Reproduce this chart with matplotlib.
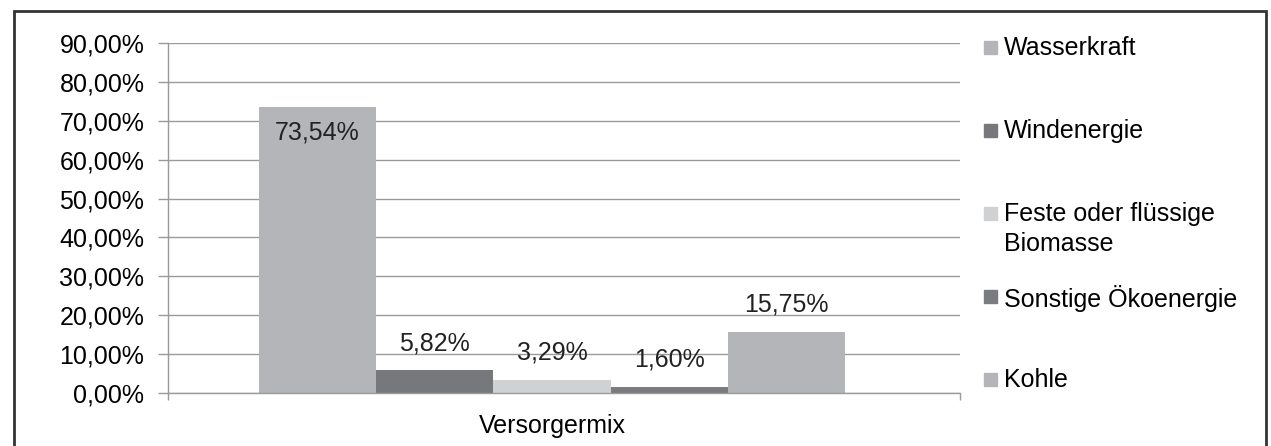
import numpy as np
import matplotlib.pyplot as plt
from matplotlib.patches import Rectangle

plt.rcParams['font.family'] = ['Liberation Sans', 'DejaVu Sans']

# data
categories = ['Wasserkraft', 'Windenergie', 'Feste oder flüssige\nBiomasse',
              'Sonstige Ökoenergie', 'Kohle']
values = [73.54, 5.82, 3.29, 1.60, 15.75]
colors = ['#b3b5b8', '#77787c', '#d0d1d3', '#7b7c80', '#b3b5b8']
group_label = 'Versorgermix'
yticks = np.arange(0, 91, 10)

FS = 18
W, H = 1271, 446
fig = plt.figure(figsize=(W / 100, H / 100), dpi=100)
ax = fig.add_axes([168 / W, 1 - 393 / H, (960 - 168) / W, 350 / H])

x = np.arange(len(values))
ax.bar(x, values, width=1.0, color=colors, zorder=2)
ax.set_xlim(-1.276, 5.48)
ax.set_ylim(0, 90)
ax.set_yticks(yticks)
ax.set_yticklabels([f'{v:.2f}%'.replace('.', ',') for v in yticks], fontsize=FS)
ax.yaxis.grid(True, color='#9a9a9a', linewidth=1.0, zorder=0)
ax.tick_params(axis='y', length=7, color='#9a9a9a', width=1.0, pad=10)
ax.set_xticks([-1.276, 5.48])
ax.set_xticklabels(['', ''])
ax.tick_params(axis='x', length=5, color='#9a9a9a', width=1.0)
for s in ['top', 'right']:
    ax.spines[s].set_visible(False)
for s in ['left', 'bottom']:
    ax.spines[s].set_color('#9a9a9a')
    ax.spines[s].set_linewidth(1.0)
ax.text(np.mean(x), -10.3, group_label, ha='center', va='baseline', fontsize=FS)

# data labels
for xi, v in zip(x, values):
    lab = f'{v:.2f}%'.replace('.', ',')
    if v > 50:
        ax.text(xi, v - 3.5, lab, ha='center', va='top', fontsize=FS, color='#222222')
    else:
        ax.text(xi, v + 5.2, lab, ha='center', va='baseline', fontsize=FS, color='#222222')

# legend drawn by hand (uneven spacing in original)
leg_y = [48, 131, 214, 297, 380]
for c, lab, yy in zip(colors, categories, leg_y):
    fig.patches.append(Rectangle((984 / W, 1 - (yy + 6) / H), 13 / W, 13 / H,
                                 transform=fig.transFigure, color=c))
    fig.text(1004 / W, 1 - (yy - 12) / H, lab, ha='left', va='top', fontsize=FS,
             linespacing=1.3)

# outer frame
fig.patches.append(Rectangle((14 / W, -0.05), (1266 - 14) / W, 1.05 - 11 / H,
                             transform=fig.transFigure, fill=False,
                             edgecolor='#333333', linewidth=2))

fig.savefig('out.png', dpi=100)
